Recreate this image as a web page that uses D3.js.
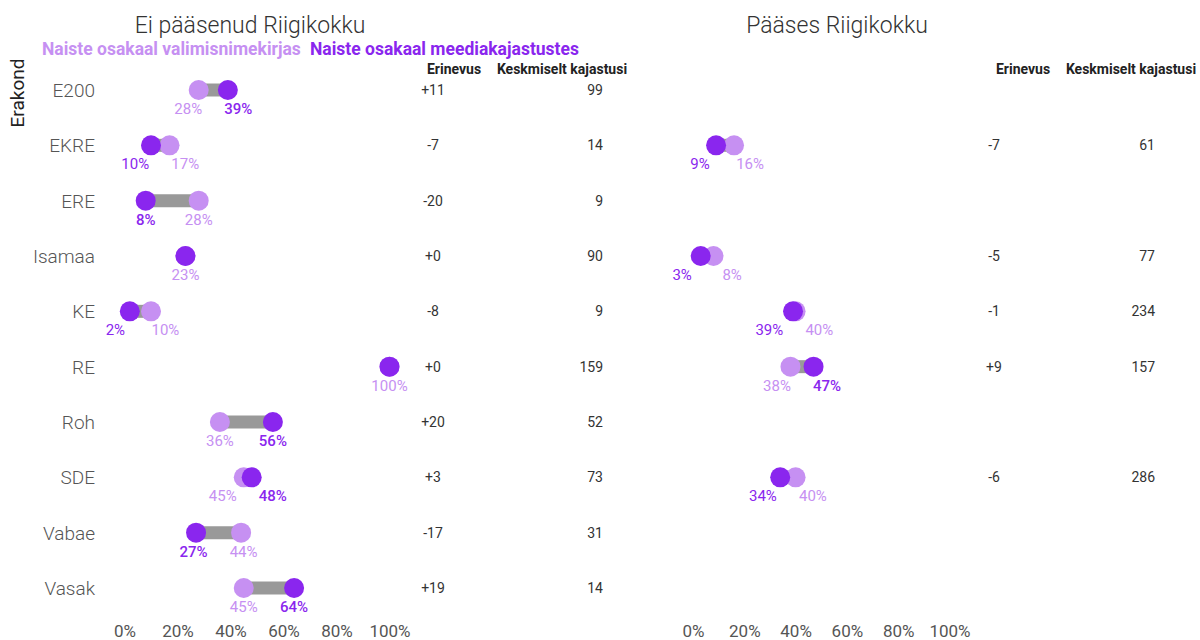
<!DOCTYPE html>
<html><head><meta charset="utf-8">
<script src="https://cdn.jsdelivr.net/npm/d3@7"></script>
<style>
html,body{margin:0;padding:0;background:#fff;}
svg{display:block;font-family:Roboto,"Noto Sans",sans-serif;}
</style></head>
<body><svg id="c" width="1200" height="640"></svg>
<script>
// ---- data ----
const categories = ["E200","EKRE","ERE","Isamaa","KE","RE","Roh","SDE","Vabae","Vasak"];
const ticks = [0,20,40,60,80,100];

// Ei pääsenud Riigikokku
const leftParties = ["E200","EKRE","ERE","Isamaa","KE","RE","Roh","SDE","Vabae","Vasak"];
const leftList  = [28,17,28,23,10,100,36,45,44,45];
const leftMedia = [39,10,8,23,2,100,56,48,27,64];
const leftDiff  = ["+11","-7","-20","+0","-8","+0","+20","+3","-17","+19"];
const leftAvg   = [99,14,9,90,9,159,52,73,31,14];

// Pääses Riigikokku
const rightParties = ["EKRE","Isamaa","KE","RE","SDE"];
const rightList  = [16,8,40,38,40];
const rightMedia = [9,3,39,47,34];
const rightDiff  = ["-7","-5","-1","+9","-6"];
const rightAvg   = [61,77,234,157,286];

const titles = ["Ei pääsenud Riigikokku","Pääses Riigikokku"];
const legendLabels = ["Naiste osakaal valimisnimekirjas","Naiste osakaal meediakajastustes"];
const colHeaders = ["Erinevus","Keskmiselt kajastusi"];

// ---- style ----
const LIGHT = "#c690f2", DARK = "#8a26ee", GRAY = "#999999", TXT = "#555", DTXT = "#333";

const svg = d3.select("#c");
const y = d3.scalePoint().domain(categories).range([90, 588]);

function panel(cfg){
  const {parties, list, media, diff, avg, x0, x1, diffX, avgX, title, titleX, headerY, erinevusX, keskX} = cfg;
  const x = d3.scaleLinear().domain([0,100]).range([x0, x1]);
  const g = svg.append("g");
  g.append("text").attr("x", titleX).attr("y", 33).attr("text-anchor","middle")
    .attr("font-size", 23).attr("font-weight",300).attr("fill", DTXT).text(title);
  g.append("text").attr("x", erinevusX).attr("y", headerY).attr("text-anchor","middle")
    .attr("font-size", 14).attr("font-weight","bold").attr("fill","#222").text(colHeaders[0]);
  g.append("text").attr("x", keskX).attr("y", headerY).attr("text-anchor","middle")
    .attr("font-size", 14).attr("font-weight","bold").attr("fill","#222").text(colHeaders[1]);

  const rows = parties.map((p,i)=>({p, l:list[i], m:media[i], d:diff[i], a:avg[i]}));
  const rg = g.selectAll("g.row").data(rows).join("g").attr("transform", d=>`translate(0,${y(d.p)})`);
  rg.append("line").attr("x1", d=>x(d.l)).attr("x2", d=>x(d.m)).attr("y1",0).attr("y2",0)
    .attr("stroke", GRAY).attr("stroke-width", 13);
  rg.append("circle").attr("cx", d=>x(d.l)).attr("r", 10).attr("fill", LIGHT);
  rg.append("circle").attr("cx", d=>x(d.m)).attr("r", 10).attr("fill", DARK);

  rg.each(function(d){
    const s = d3.select(this);
    const numDiff = d.m - d.l;
    if (numDiff === 0){
      s.append("text").attr("x", x(d.l)).attr("y", 24).attr("text-anchor","middle")
        .attr("font-size", 15).attr("fill", LIGHT).text(d.l + "%");
    } else {
      let lx = x(d.l), mx = x(d.m);
      const minSep = 50;
      if (Math.abs(lx - mx) < minSep){
        const mid = (lx + mx)/2, sgn = lx < mx ? -1 : 1;
        lx = mid + sgn*minSep/2; mx = mid - sgn*minSep/2;
      }
      const bold = numDiff > 0 || numDiff <= -10;
      s.append("text").attr("x", lx).attr("y", 24).attr("text-anchor","middle")
        .attr("font-size", 15).attr("fill", LIGHT).text(d.l + "%");
      s.append("text").attr("x", mx).attr("y", 24).attr("text-anchor","middle")
        .attr("font-size", 15).attr("font-weight", bold ? 500 : "normal").attr("fill", DARK).text(d.m + "%");
    }
    s.append("text").attr("x", diffX).attr("y", 5).attr("text-anchor","middle")
      .attr("font-size", 14).attr("fill", DTXT).text(d.d);
    s.append("text").attr("x", avgX).attr("y", 5).attr("text-anchor","end")
      .attr("font-size", 14).attr("fill", DTXT).text(d.a);
  });

  const ax = g.append("g").attr("transform","translate(0,622)")
    .call(d3.axisBottom(x).tickValues(ticks).tickFormat(t=>t+"%").tickSize(0));
  ax.select(".domain").remove();
  ax.selectAll("text").attr("font-size", 17).attr("fill", TXT).attr("font-family","Roboto,sans-serif");
  return x;
}

panel({parties:leftParties, list:leftList, media:leftMedia, diff:leftDiff, avg:leftAvg,
  x0:124.5, x1:389.5, diffX:433, avgX:603, title:titles[0], titleX:250, headerY:74, erinevusX:454, keskX:562});
panel({parties:rightParties, list:rightList, media:rightMedia, diff:rightDiff, avg:rightAvg,
  x0:693, x1:949.5, diffX:994, avgX:1155, title:titles[1], titleX:837, headerY:74, erinevusX:1023, keskX:1131});

// category labels
svg.append("g").selectAll("text").data(categories).join("text")
  .attr("x", 95).attr("y", d=>y(d)+7).attr("text-anchor","end")
  .attr("font-size", 19).attr("font-weight",300).attr("fill", TXT).text(d=>d);

// axis title
svg.append("text").attr("transform","translate(24,93) rotate(-90)").attr("text-anchor","middle")
  .attr("font-size", 19).attr("fill","#222").text("Erakond");

// legend
const leg = svg.append("text").attr("y", 55).attr("font-size", 17.5).attr("font-weight","bold");
leg.append("tspan").attr("x", 42).attr("fill", LIGHT).text(legendLabels[0]);
leg.append("tspan").attr("x", 310).attr("fill", DARK).text(legendLabels[1]);
</script></body></html>
